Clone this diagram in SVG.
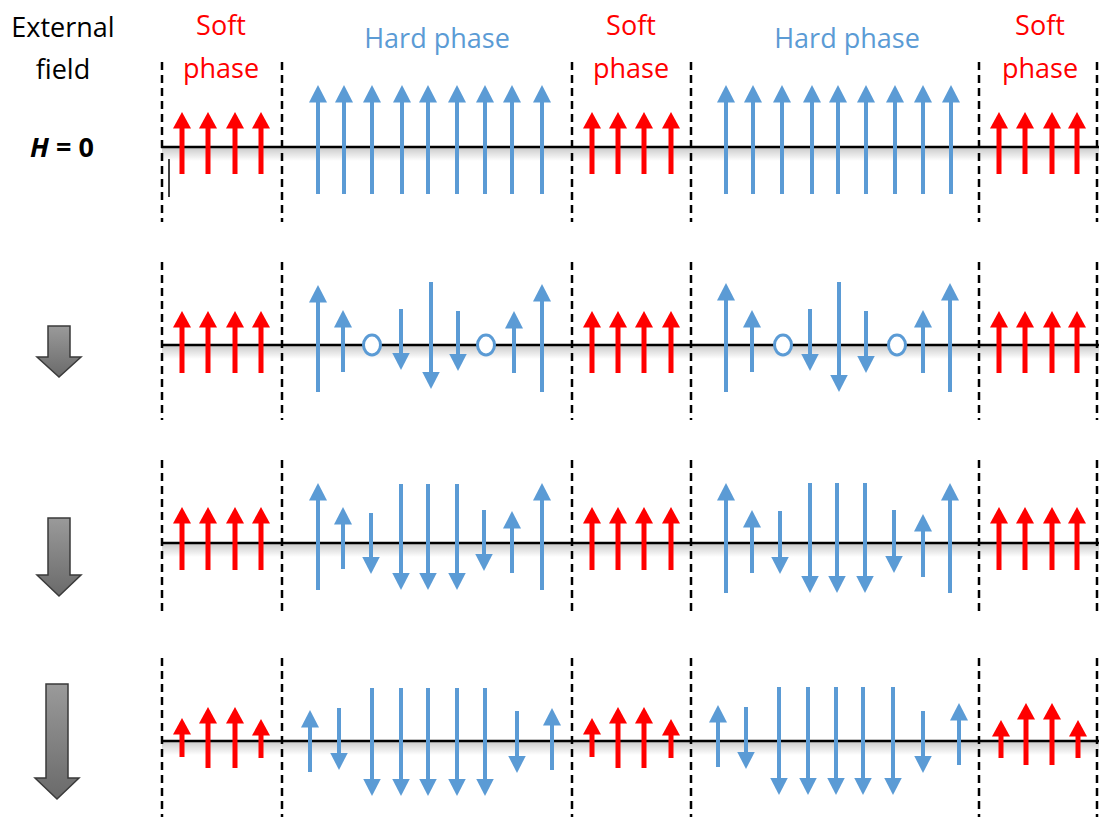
<svg xmlns="http://www.w3.org/2000/svg" width="1099" height="819" viewBox="0 0 1099 819">
  <defs>
    <style>
      .lbl { font-family: "Open Sans", "Liberation Sans", sans-serif; font-size: 27px; text-anchor: middle; }
      .soft { fill: #FF0000; }
      .hard { fill: #5B9BD5; }
      .ink { fill: #000000; }
      .axis { stroke: #000000; stroke-width: 2.5; }
      .div { stroke: #000000; stroke-width: 2.5; stroke-dasharray: 8 5; }
      .r { stroke: #FF0000; stroke-width: 5; marker-end: url(#headR); }
      .b { stroke: #5B9BD5; stroke-width: 4; marker-end: url(#headB); }
      .vac { fill: #FFFFFF; stroke: #5B9BD5; stroke-width: 3; }
      .field { fill: url(#fieldGrad); stroke: #3a3a3a; stroke-width: 1.5; stroke-linejoin: miter; }
    </style>
    <marker id="headR" markerUnits="userSpaceOnUse" markerWidth="17" markerHeight="18" viewBox="0 0 17 18" refX="1.5" refY="9" orient="auto">
      <path d="M0,0 L16.5,9 L0,18 z" fill="#FF0000"/>
    </marker>
    <marker id="headB" markerUnits="userSpaceOnUse" markerWidth="18" markerHeight="18" viewBox="0 0 18 18" refX="1.5" refY="9" orient="auto">
      <path d="M0,0 L17.5,9 L0,18 z" fill="#5B9BD5"/>
    </marker>
    <linearGradient id="shade" x1="0" y1="0" x2="0" y2="1">
      <stop offset="0" stop-color="#000000" stop-opacity="0.2"/>
      <stop offset="1" stop-color="#000000" stop-opacity="0"/>
    </linearGradient>
    <linearGradient id="fieldGrad" x1="0" y1="0" x2="0" y2="1">
      <stop offset="0" stop-color="#9a9a9a"/>
      <stop offset="1" stop-color="#6a6a6a"/>
    </linearGradient>
  </defs>

  <rect width="1099" height="819" fill="#FFFFFF"/>

  <!-- headings -->
  <g id="labels">
    <text class="lbl ink" x="63" y="37">External</text>
    <text class="lbl ink" x="63" y="79">field</text>
    <text class="lbl ink" x="62" y="157" font-weight="bold" font-size="28"><tspan font-style="italic">H</tspan> = 0</text>
    <text class="lbl soft" x="221" y="35">Soft</text>
    <text class="lbl soft" x="221" y="78">phase</text>
    <text class="lbl hard" x="437" y="48">Hard phase</text>
    <text class="lbl soft" x="631" y="35">Soft</text>
    <text class="lbl soft" x="631" y="78">phase</text>
    <text class="lbl hard" x="847" y="48">Hard phase</text>
    <text class="lbl soft" x="1040" y="35">Soft</text>
    <text class="lbl soft" x="1040" y="78">phase</text>
  </g>

  <!-- increasing applied field -->
  <g id="field-arrows">
    <polygon class="field" points="48,326 70,326 70,357 81,357 59,377 37,357 48,357"/>
    <polygon class="field" points="48,518 70,518 70,575 81,575 59,596 37,575 48,575"/>
    <polygon class="field" points="46,684 68,684 68,778 79,778 57,799 35,778 46,778"/>
  </g>

  <!-- chain axes with soft shadow -->
  <g id="axes">
    <rect x="162" y="148" width="937" height="13" fill="url(#shade)"/>
    <rect x="162" y="346" width="937" height="13" fill="url(#shade)"/>
    <rect x="162" y="544" width="937" height="13" fill="url(#shade)"/>
    <rect x="162" y="742" width="937" height="13" fill="url(#shade)"/>
    <line class="axis" x1="161" y1="147" x2="1099" y2="147"/>
    <line class="axis" x1="161" y1="345" x2="1099" y2="345"/>
    <line class="axis" x1="161" y1="543" x2="1099" y2="543"/>
    <line class="axis" x1="161" y1="741" x2="1099" y2="741"/>
    <line x1="169" y1="159" x2="169" y2="197" stroke="#000000" stroke-width="1.5"/>
  </g>

  <!-- phase boundaries -->
  <g id="boundaries">
    <path class="div" d="M162,62V222 M282,62V222 M572,62V222 M691,62V222 M979,62V222 M1097,62V222"/>
    <path class="div" d="M162,262V420 M282,262V420 M572,262V420 M691,262V420 M979,262V420 M1097,262V420"/>
    <path class="div" d="M162,460V615 M282,460V615 M572,460V615 M691,460V615 M979,460V615 M1097,460V615"/>
    <path class="div" d="M162,658V817 M282,658V817 M572,658V817 M691,658V817 M979,658V817 M1097,658V817"/>
  </g>

  <!-- H = 0 -->
  <g id="row-h0">
    <line class="r" x1="182" y1="174" x2="182" y2="127"/>
    <line class="r" x1="208" y1="174" x2="208" y2="127"/>
    <line class="r" x1="235" y1="174" x2="235" y2="127"/>
    <line class="r" x1="261" y1="174" x2="261" y2="127"/>
    <line class="b" x1="318" y1="194" x2="318" y2="101"/>
    <line class="b" x1="344" y1="194" x2="344" y2="101"/>
    <line class="b" x1="372" y1="194" x2="372" y2="101"/>
    <line class="b" x1="402" y1="194" x2="402" y2="101"/>
    <line class="b" x1="428" y1="194" x2="428" y2="101"/>
    <line class="b" x1="457" y1="194" x2="457" y2="101"/>
    <line class="b" x1="485" y1="194" x2="485" y2="101"/>
    <line class="b" x1="512" y1="194" x2="512" y2="101"/>
    <line class="b" x1="542" y1="194" x2="542" y2="101"/>
    <line class="r" x1="592" y1="174" x2="592" y2="127"/>
    <line class="r" x1="618" y1="174" x2="618" y2="127"/>
    <line class="r" x1="644" y1="174" x2="644" y2="127"/>
    <line class="r" x1="671" y1="174" x2="671" y2="127"/>
    <line class="b" x1="726" y1="194" x2="726" y2="101"/>
    <line class="b" x1="753" y1="194" x2="753" y2="101"/>
    <line class="b" x1="782" y1="194" x2="782" y2="101"/>
    <line class="b" x1="812" y1="194" x2="812" y2="101"/>
    <line class="b" x1="838" y1="194" x2="838" y2="101"/>
    <line class="b" x1="866" y1="194" x2="866" y2="101"/>
    <line class="b" x1="895" y1="194" x2="895" y2="101"/>
    <line class="b" x1="923" y1="194" x2="923" y2="101"/>
    <line class="b" x1="951" y1="194" x2="951" y2="101"/>
    <line class="r" x1="999" y1="174" x2="999" y2="127"/>
    <line class="r" x1="1025" y1="174" x2="1025" y2="127"/>
    <line class="r" x1="1052" y1="174" x2="1052" y2="127"/>
    <line class="r" x1="1077" y1="174" x2="1077" y2="127"/>
  </g>

  <!-- weak reversed field -->
  <g id="row-weak">
    <line class="r" x1="182" y1="373" x2="182" y2="326"/>
    <line class="r" x1="208" y1="373" x2="208" y2="326"/>
    <line class="r" x1="235" y1="373" x2="235" y2="326"/>
    <line class="r" x1="261" y1="373" x2="261" y2="326"/>
    <line class="b" x1="318" y1="392" x2="318" y2="301"/>
    <line class="b" x1="343" y1="372" x2="343" y2="326"/>
    <ellipse class="vac" cx="372" cy="345" rx="8.5" ry="10"/>
    <line class="b" x1="401" y1="309" x2="401" y2="354"/>
    <line class="b" x1="431" y1="282" x2="431" y2="373"/>
    <line class="b" x1="458" y1="311" x2="458" y2="355"/>
    <ellipse class="vac" cx="486" cy="345" rx="8.5" ry="10"/>
    <line class="b" x1="514" y1="373" x2="514" y2="327"/>
    <line class="b" x1="542" y1="392" x2="542" y2="300"/>
    <line class="r" x1="592" y1="373" x2="592" y2="326"/>
    <line class="r" x1="618" y1="373" x2="618" y2="326"/>
    <line class="r" x1="644" y1="373" x2="644" y2="326"/>
    <line class="r" x1="671" y1="373" x2="671" y2="326"/>
    <line class="b" x1="726" y1="392" x2="726" y2="299"/>
    <line class="b" x1="752" y1="372" x2="752" y2="326"/>
    <ellipse class="vac" cx="783" cy="345" rx="8.5" ry="10"/>
    <line class="b" x1="810" y1="309" x2="810" y2="355"/>
    <line class="b" x1="839" y1="282" x2="839" y2="376"/>
    <line class="b" x1="866" y1="311" x2="866" y2="357"/>
    <ellipse class="vac" cx="897" cy="345" rx="8.5" ry="10"/>
    <line class="b" x1="923" y1="373" x2="923" y2="326"/>
    <line class="b" x1="950" y1="392" x2="950" y2="299"/>
    <line class="r" x1="999" y1="373" x2="999" y2="326"/>
    <line class="r" x1="1025" y1="373" x2="1025" y2="326"/>
    <line class="r" x1="1052" y1="373" x2="1052" y2="326"/>
    <line class="r" x1="1077" y1="373" x2="1077" y2="326"/>
  </g>

  <!-- moderate reversed field -->
  <g id="row-moderate">
    <line class="r" x1="182" y1="570" x2="182" y2="522"/>
    <line class="r" x1="208" y1="570" x2="208" y2="522"/>
    <line class="r" x1="235" y1="570" x2="235" y2="522"/>
    <line class="r" x1="261" y1="570" x2="261" y2="522"/>
    <line class="b" x1="318" y1="590" x2="318" y2="499"/>
    <line class="b" x1="343" y1="569" x2="343" y2="523"/>
    <line class="b" x1="371" y1="513" x2="371" y2="558"/>
    <line class="b" x1="401" y1="484" x2="401" y2="574"/>
    <line class="b" x1="428" y1="484" x2="428" y2="574"/>
    <line class="b" x1="457" y1="484" x2="457" y2="574"/>
    <line class="b" x1="484" y1="510" x2="484" y2="555"/>
    <line class="b" x1="512" y1="573" x2="512" y2="527"/>
    <line class="b" x1="542" y1="590" x2="542" y2="499"/>
    <line class="r" x1="592" y1="570" x2="592" y2="522"/>
    <line class="r" x1="618" y1="570" x2="618" y2="522"/>
    <line class="r" x1="644" y1="570" x2="644" y2="522"/>
    <line class="r" x1="671" y1="570" x2="671" y2="522"/>
    <line class="b" x1="726" y1="593" x2="726" y2="499"/>
    <line class="b" x1="752" y1="573" x2="752" y2="526"/>
    <line class="b" x1="780" y1="511" x2="780" y2="558"/>
    <line class="b" x1="810" y1="483" x2="810" y2="577"/>
    <line class="b" x1="837" y1="483" x2="837" y2="577"/>
    <line class="b" x1="865" y1="483" x2="865" y2="577"/>
    <line class="b" x1="894" y1="510" x2="894" y2="557"/>
    <line class="b" x1="923" y1="577" x2="923" y2="530"/>
    <line class="b" x1="950" y1="593" x2="950" y2="499"/>
    <line class="r" x1="999" y1="570" x2="999" y2="522"/>
    <line class="r" x1="1025" y1="570" x2="1025" y2="522"/>
    <line class="r" x1="1052" y1="570" x2="1052" y2="522"/>
    <line class="r" x1="1077" y1="570" x2="1077" y2="522"/>
  </g>

  <!-- strong reversed field -->
  <g id="row-strong">
    <line class="r" x1="182" y1="757" x2="182" y2="733"/>
    <line class="r" x1="208" y1="768" x2="208" y2="722"/>
    <line class="r" x1="235" y1="768" x2="235" y2="722"/>
    <line class="r" x1="261" y1="758" x2="261" y2="734"/>
    <line class="b" x1="310" y1="772" x2="310" y2="726"/>
    <line class="b" x1="339" y1="708" x2="339" y2="754"/>
    <line class="b" x1="372" y1="688" x2="372" y2="780"/>
    <line class="b" x1="401" y1="688" x2="401" y2="780"/>
    <line class="b" x1="428" y1="688" x2="428" y2="780"/>
    <line class="b" x1="457" y1="688" x2="457" y2="780"/>
    <line class="b" x1="485" y1="688" x2="485" y2="780"/>
    <line class="b" x1="517" y1="711" x2="517" y2="757"/>
    <line class="b" x1="552" y1="770" x2="552" y2="724"/>
    <line class="r" x1="592" y1="757" x2="592" y2="733"/>
    <line class="r" x1="618" y1="768" x2="618" y2="722"/>
    <line class="r" x1="644" y1="768" x2="644" y2="722"/>
    <line class="r" x1="671" y1="758" x2="671" y2="734"/>
    <line class="b" x1="718" y1="767" x2="718" y2="721"/>
    <line class="b" x1="746" y1="707" x2="746" y2="753"/>
    <line class="b" x1="779" y1="687" x2="779" y2="779"/>
    <line class="b" x1="808" y1="687" x2="808" y2="779"/>
    <line class="b" x1="836" y1="687" x2="836" y2="779"/>
    <line class="b" x1="863" y1="687" x2="863" y2="779"/>
    <line class="b" x1="893" y1="687" x2="893" y2="779"/>
    <line class="b" x1="923" y1="711" x2="923" y2="757"/>
    <line class="b" x1="959" y1="765" x2="959" y2="719"/>
    <line class="r" x1="1001" y1="758" x2="1001" y2="735"/>
    <line class="r" x1="1026" y1="765" x2="1026" y2="718"/>
    <line class="r" x1="1052" y1="765" x2="1052" y2="718"/>
    <line class="r" x1="1078" y1="758" x2="1078" y2="735"/>
  </g>
</svg>
